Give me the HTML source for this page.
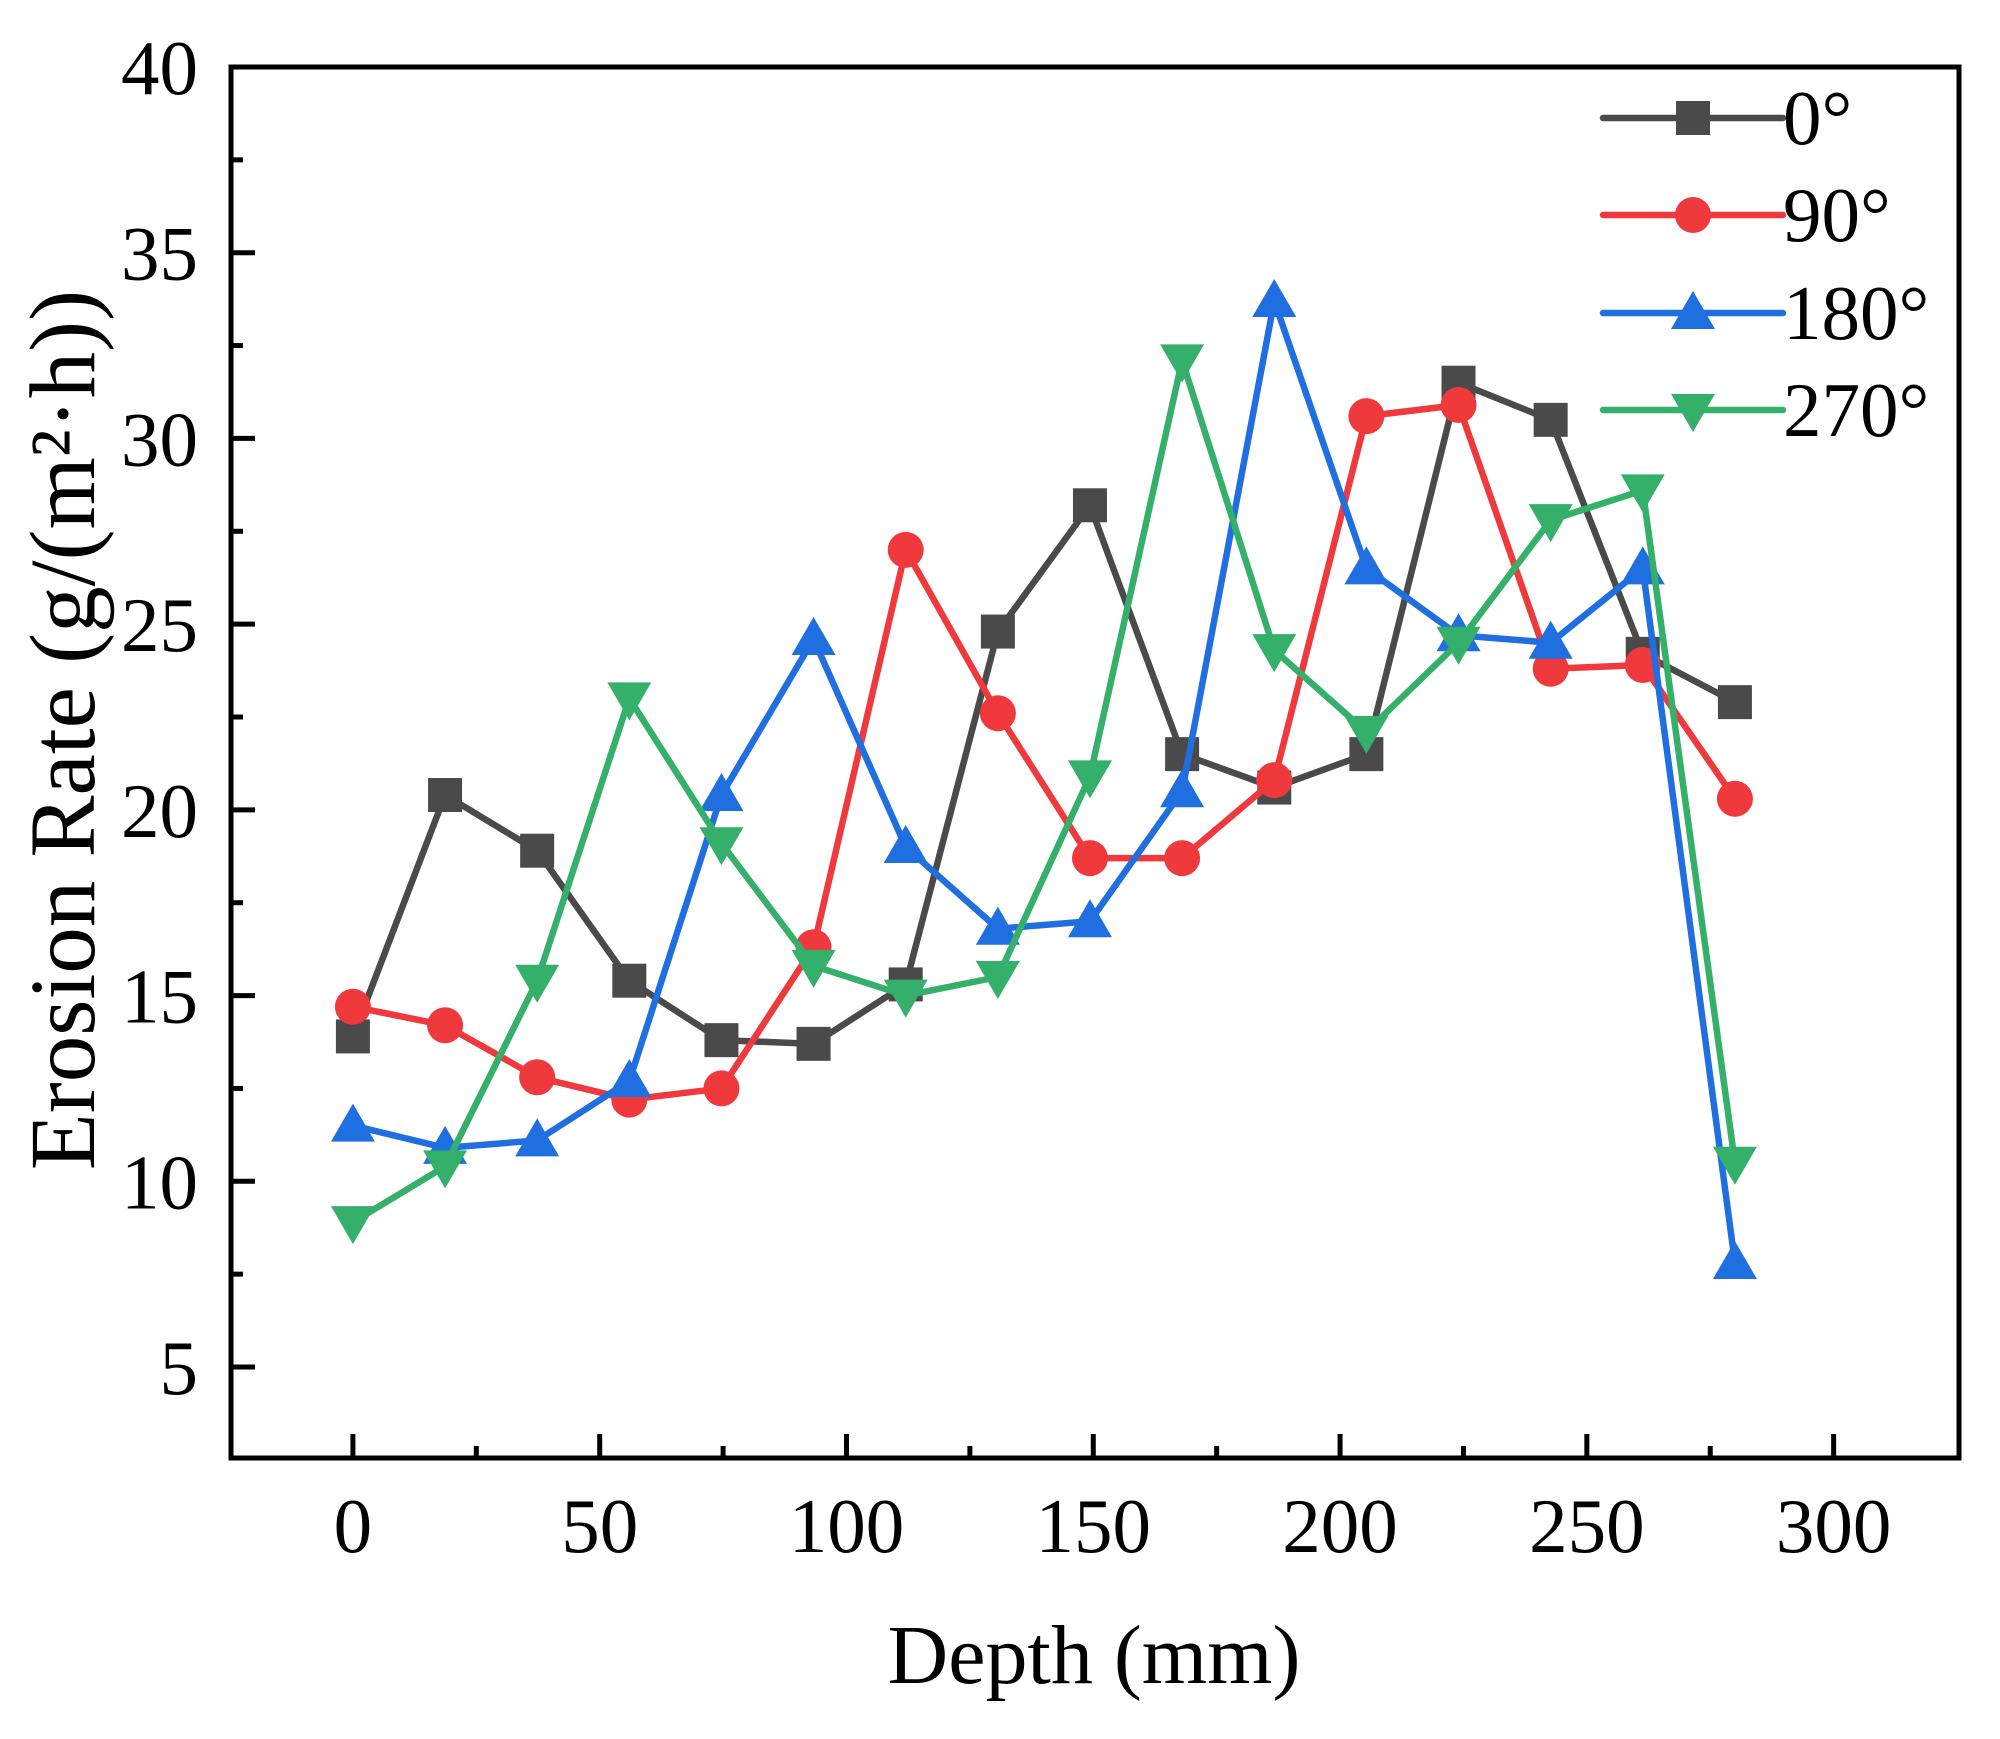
<!DOCTYPE html>
<html><head><meta charset="utf-8"><style>
html,body{margin:0;padding:0;background:#fff;}
svg{display:block;font-family:"Liberation Serif","Times New Roman",serif;}
</style></head><body>
<svg id="chart" width="2000" height="1739" viewBox="0 0 2000 1739" xmlns="http://www.w3.org/2000/svg">
<g id="plot"></g>
</svg>
<script>
const depths = [0,18.67,37.33,56,74.67,93.33,112,130.67,149.33,168,186.67,205.33,224,242.67,261.33,280];
const s0 = [13.9,20.4,18.9,15.4,13.8,13.7,15.3,24.8,28.2,21.5,20.6,21.5,31.5,30.5,24.2,22.9];
const s90 = [14.7,14.2,12.8,12.2,12.5,16.3,27.0,22.6,18.7,18.7,20.8,30.6,30.9,23.8,23.9,20.3];
const s180 = [11.5,10.9,11.1,12.7,20.4,24.6,19.0,16.8,17.0,20.5,33.7,26.5,24.7,24.5,26.5,7.8];
const s270 = [8.9,10.4,15.4,23.0,19.1,15.8,15.0,15.5,20.9,32.1,24.3,22.1,24.5,27.8,28.6,10.5];
const seriesNames = ["0°","90°","180°","270°"];
const xTicks = [0,50,100,150,200,250,300];
const yTicks = [5,10,15,20,25,30,35,40];

const NS="http://www.w3.org/2000/svg";
const L=231,R=1959,T=67,B=1458;
const xMin=-24.7,xMax=325.4,yMin=2.55,yMax=40;
function xs(v){return L+(v-xMin)/(xMax-xMin)*(R-L);}
function ys(v){return B-(v-yMin)/(yMax-yMin)*(B-T);}
const g=document.getElementById('plot');
function mk(tag,attrs,parent){const e=document.createElementNS(NS,tag);for(const k in attrs)e.setAttribute(k,attrs[k]);(parent||g).appendChild(e);return e;}

xTicks.forEach(v=>{
  const t=mk('line',{x1:xs(v),x2:xs(v),y1:B,y2:B-24,stroke:'#000','stroke-width':5});
  
  
  if(v<300){const m=mk('line',{x1:xs(v+25),x2:xs(v+25),y1:B,y2:B-12,stroke:'#000','stroke-width':5});
  
  }
  const tx=mk('text',{x:xs(v),y:1552,'font-size':77,'text-anchor':'middle',fill:'#000'});
  tx.textContent=v;
  
  
});
yTicks.forEach(v=>{
  const t=mk('line',{x1:L,x2:L+24,y1:ys(v),y2:ys(v),stroke:'#000','stroke-width':5});
  
  
  if(v<40){const m=mk('line',{x1:L,x2:L+12,y1:ys(v+2.5),y2:ys(v+2.5),stroke:'#000','stroke-width':5});
  
  }
  const tx=mk('text',{x:198,y:ys(v)+27,'font-size':77,'text-anchor':'end',fill:'#000'});
  tx.textContent=v;
  
  
});
const frame=mk('rect',{x:L,y:T,width:R-L,height:B-T,fill:'none',stroke:'#000','stroke-width':5});



const xt=mk('text',{x:1094,y:1683,'font-size':84,'text-anchor':'middle',fill:'#000'});
xt.textContent='Depth (mm)';


const yt=mk('text',{x:0,y:0,'font-size':93,'text-anchor':'middle',fill:'#000',transform:'translate(94,730) rotate(-90)'});
yt.textContent='Erosion Rate (g/(m²·h))';



const colors=['#4a4a4a','#f0393c','#1f6fe0','#34b06a'];
const shapes=['square','circle','up','down'];
function marker(shape,x,y,c,parent){
  if(shape==='square')return mk('rect',{x:x-17,y:y-17,width:34,height:34,fill:c},parent);
  if(shape==='circle')return mk('circle',{cx:x,cy:y,r:18,fill:c},parent);
  if(shape==='up')return mk('polygon',{points:`${x},${y-22} ${x+22},${y+16} ${x-22},${y+16}`,fill:c},parent);
  return mk('polygon',{points:`${x},${y+22} ${x+22},${y-16} ${x-22},${y-16}`,fill:c},parent);
}
[s0,s90,s180,s270].forEach((arr,i)=>{
  const sg=mk('g',{});
  
  
  const pts=arr.map((v,j)=>xs(depths[j])+','+ys(v)).join(' ');
  const pl=mk('polyline',{points:pts,fill:'none',stroke:colors[i],'stroke-width':6.5,'stroke-linejoin':'round'},sg);
  
  
  arr.forEach((v,j)=>{
    const m=marker(shapes[i],xs(depths[j]),ys(v),colors[i],sg);
    
    
  });
});

const lg=mk('g',{});


const ly=[118,215,313,410];
seriesNames.forEach((n,i)=>{
  const e=mk('g',{},lg);
  
  
  mk('line',{x1:1603,x2:1783,y1:ly[i],y2:ly[i],stroke:colors[i],'stroke-width':6.5,'stroke-linecap':'round'},e);
  marker(shapes[i],1693,ly[i],colors[i],e);
  const t=mk('text',{x:1783,y:ly[i]+26,'font-size':77,fill:'#000'},e);
  t.textContent=n;
});
</script>
</body></html>
